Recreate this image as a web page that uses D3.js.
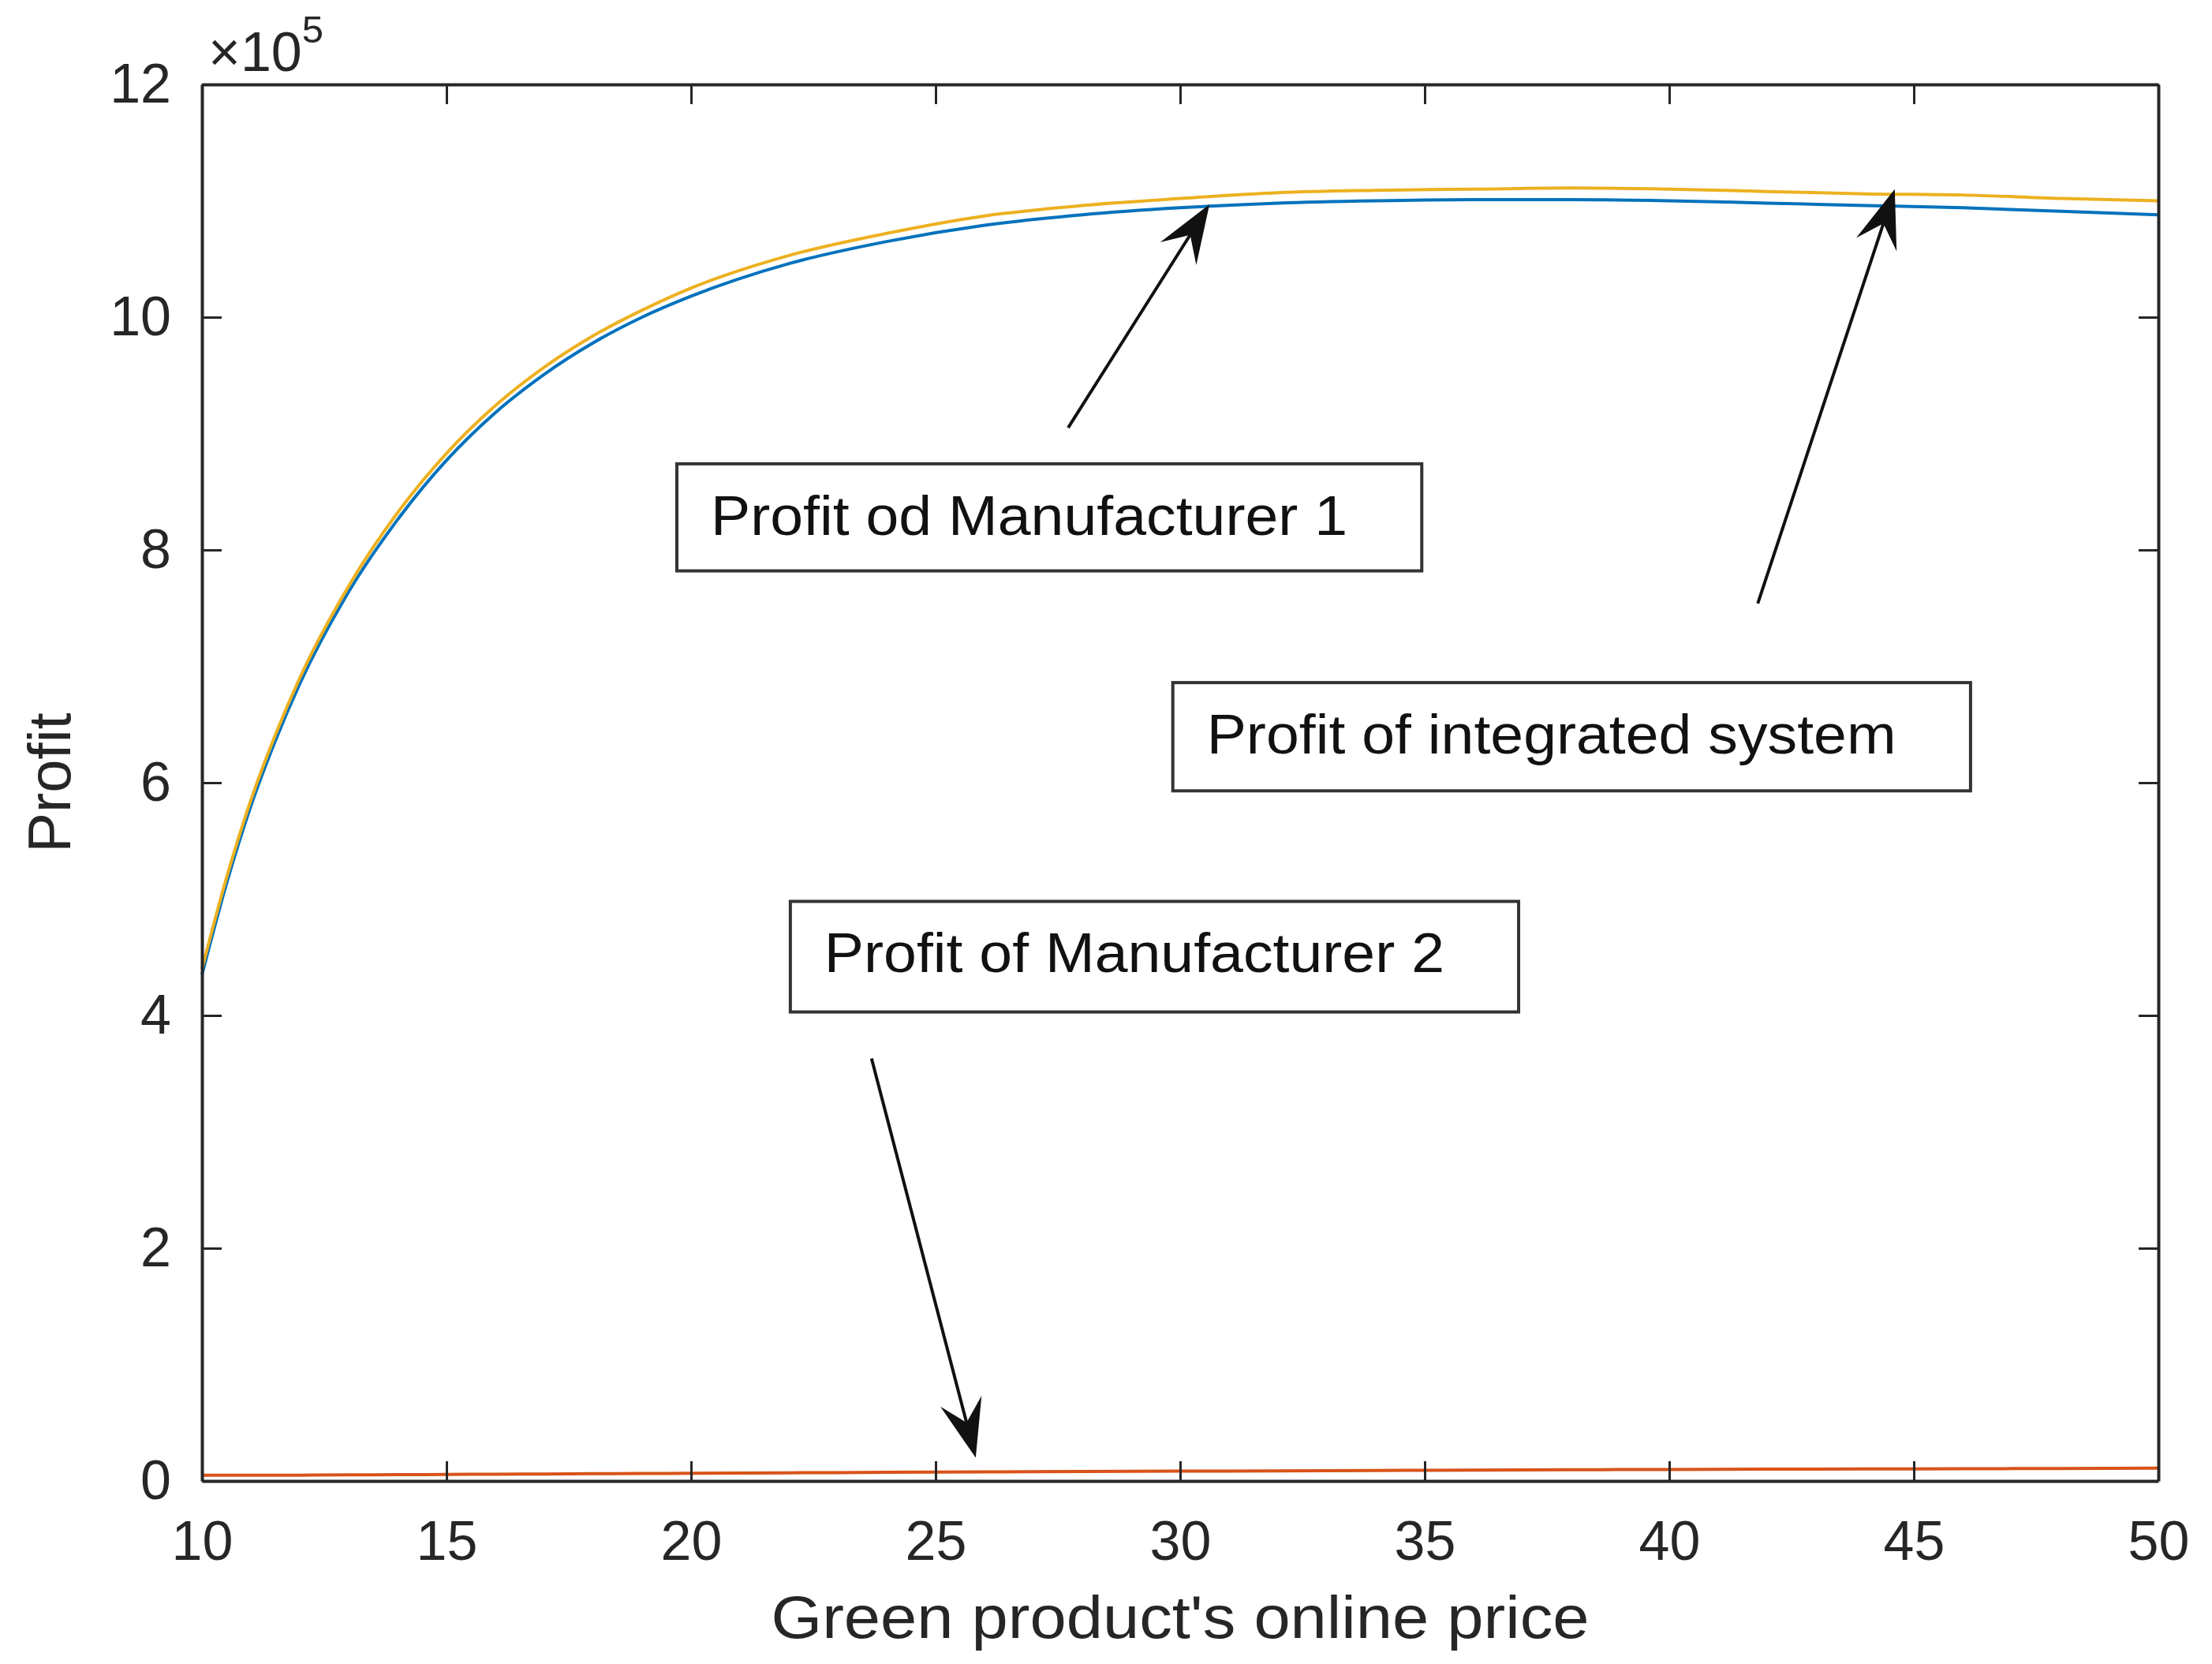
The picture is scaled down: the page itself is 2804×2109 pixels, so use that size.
<!DOCTYPE html>
<html>
<head>
<meta charset="utf-8">
<script src="https://cdn.jsdelivr.net/npm/d3@7"></script>
<style>
  body { margin: 0; background: #fff; }
  svg { display: block; font-family: "Liberation Sans", Arial, sans-serif; }
</style>
</head>
<body>
<div id="chart"></div>
<script>
// green product's online price (x)
const price = [10, 10.5, 11, 11.5, 12, 13, 14, 15, 16, 17, 18, 19, 20, 22, 24, 26, 28, 30, 32, 34, 36, 38, 40, 42, 44, 46, 48, 50]

// profits, in units of 10^5
const profitM1 = [4.35, 5.13, 5.80, 6.36, 6.85, 7.64, 8.26, 8.77, 9.18, 9.51, 9.78, 10.00, 10.18, 10.46, 10.65, 10.79, 10.88, 10.94, 10.98, 11.00, 11.01, 11.01, 11.00, 10.98, 10.96, 10.94, 10.91, 10.88]
const profitM2 = [0.05, 0.05, 0.05, 0.05, 0.05, 0.052, 0.054, 0.056, 0.058, 0.06, 0.062, 0.064, 0.066, 0.07, 0.074, 0.078, 0.081, 0.084, 0.087, 0.09, 0.093, 0.096, 0.099, 0.101, 0.103, 0.105, 0.107, 0.11]
const profitSystem = [4.40, 5.18, 5.85, 6.41, 6.90, 7.69, 8.32, 8.83, 9.24, 9.57, 9.84, 10.06, 10.25, 10.53, 10.72, 10.87, 10.96, 11.02, 11.07, 11.09, 11.10, 11.11, 11.10, 11.08, 11.06, 11.05, 11.02, 11.00]

const xTicks = [10, 15, 20, 25, 30, 35, 40, 45, 50]
const yTicks = [0, 2, 4, 6, 8, 10, 12]

// annotation text boxes and arrows, in data units
const boxLabels = ["Profit od Manufacturer 1", "Profit of integrated system", "Profit of Manufacturer 2"]
const boxX = [[19.71, 34.94], [29.85, 46.16], [22.03, 36.92]]
const boxY = [[8.74, 7.82], [6.86, 5.93], [4.98, 4.03]]
const arrowFrom = [[27.71, 9.05], [41.81, 7.54], [23.69, 3.63]]
const arrowTo = [[30.6, 10.97], [44.61, 11.1], [25.82, 0.20]]

const W = 2804, H = 2109
const plot = { left: 256, right: 2736, top: 107, bottom: 1877 }
const ink = "#262626"

const svg = d3.select("#chart").append("svg")
  .attr("width", W)
  .attr("height", H)

svg.append("rect").attr("width", W).attr("height", H).attr("fill", "#fff")

const x = d3.scaleLinear().domain([10, 50]).range([plot.left, plot.right])
const y = d3.scaleLinear().domain([0, 12]).range([plot.bottom, plot.top])

// lines
const series = [
  { values: profitM1, color: "#0072BD" },
  { values: profitM2, color: "#D95319" },
  { values: profitSystem, color: "#EDB120" }
]

const line = d3.line()
  .x(d => x(d[0]))
  .y(d => y(d[1]))
  .curve(d3.curveMonotoneX)

series.forEach(s => {
  svg.append("path")
    .datum(price.map((p, i) => [p, s.values[i]]))
    .attr("fill", "none")
    .attr("stroke", s.color)
    .attr("stroke-width", 4)
    .attr("d", line)
})

// axes, ticks pointing inward on all four sides
const styleAxis = g => {
  g.select(".domain").attr("stroke", ink).attr("stroke-width", 4)
  g.selectAll(".tick line").attr("stroke", ink).attr("stroke-width", 3)
  g.selectAll(".tick text").attr("fill", ink).attr("font-size", 70)
    .attr("font-family", "Liberation Sans, Arial, sans-serif")
}

svg.append("g")
  .attr("transform", `translate(0,${plot.bottom})`)
  .call(d3.axisBottom(x).tickValues(xTicks).tickSize(-25).tickSizeOuter(0).tickPadding(50))
  .call(styleAxis)

svg.append("g")
  .attr("transform", `translate(0,${plot.top})`)
  .call(d3.axisTop(x).tickValues(xTicks).tickSize(-25).tickSizeOuter(0).tickFormat(""))
  .call(styleAxis)

svg.append("g")
  .attr("transform", `translate(${plot.left},0)`)
  .call(d3.axisLeft(y).tickValues(yTicks).tickSize(-25).tickSizeOuter(0).tickPadding(39))
  .call(styleAxis)

svg.append("g")
  .attr("transform", `translate(${plot.right},0)`)
  .call(d3.axisRight(y).tickValues(yTicks).tickSize(-25).tickSizeOuter(0).tickFormat(""))
  .call(styleAxis)

// exponent label
const expo = svg.append("text")
  .attr("x", 264)
  .attr("y", 90)
  .attr("fill", ink)
  .attr("font-size", 70)
expo.append("tspan").text("\u00d710")
expo.append("tspan").attr("font-size", 49).attr("dy", -36).text("5")

// axis labels
svg.append("text")
  .attr("x", (plot.left + plot.right) / 2)
  .attr("y", 2076)
  .attr("text-anchor", "middle")
  .attr("fill", ink)
  .attr("font-size", 76)
  .attr("textLength", 1037)
  .attr("lengthAdjust", "spacingAndGlyphs")
  .text("Green product's online price")

svg.append("text")
  .attr("transform", `translate(89,${(plot.top + plot.bottom) / 2}) rotate(-90)`)
  .attr("text-anchor", "middle")
  .attr("fill", ink)
  .attr("font-size", 76)
  .text("Profit")

// text boxes
boxLabels.forEach((label, i) => {
  const x0 = x(boxX[i][0]), x1 = x(boxX[i][1])
  const y0 = y(boxY[i][0]), y1 = y(boxY[i][1])
  svg.append("rect")
    .attr("x", x0).attr("y", y0)
    .attr("width", x1 - x0).attr("height", y1 - y0)
    .attr("fill", "#fff")
    .attr("stroke", "#333")
    .attr("stroke-width", 4)
  svg.append("text")
    .attr("x", x0 + 43)
    .attr("y", y0 + 90)
    .attr("fill", "#111")
    .attr("font-size", 70)
    .attr("transform", `translate(${x0 + 43},0) scale(1.075,1) translate(${-(x0 + 43)},0)`)
    .text(label)
})

// arrows
arrowFrom.forEach((from, i) => {
  const to = arrowTo[i]
  const sx = x(from[0]), sy = y(from[1])
  const tx = x(to[0]), ty = y(to[1])
  const len = Math.hypot(tx - sx, ty - sy)
  const ux = (tx - sx) / len, uy = (ty - sy) / len
  const nx = -uy, ny = ux
  const L = 74, hw = 27
  const bx = tx - ux * L, by = ty - uy * L
  const mx = tx - ux * L * 0.62, my = ty - uy * L * 0.62

  svg.append("line")
    .attr("x1", sx).attr("y1", sy)
    .attr("x2", mx).attr("y2", my)
    .attr("stroke", "#111")
    .attr("stroke-width", 4)

  svg.append("path")
    .attr("d", `M${tx},${ty} L${bx + nx * hw},${by + ny * hw} L${mx},${my} L${bx - nx * hw},${by - ny * hw} Z`)
    .attr("fill", "#111")
})
</script>
</body>
</html>
